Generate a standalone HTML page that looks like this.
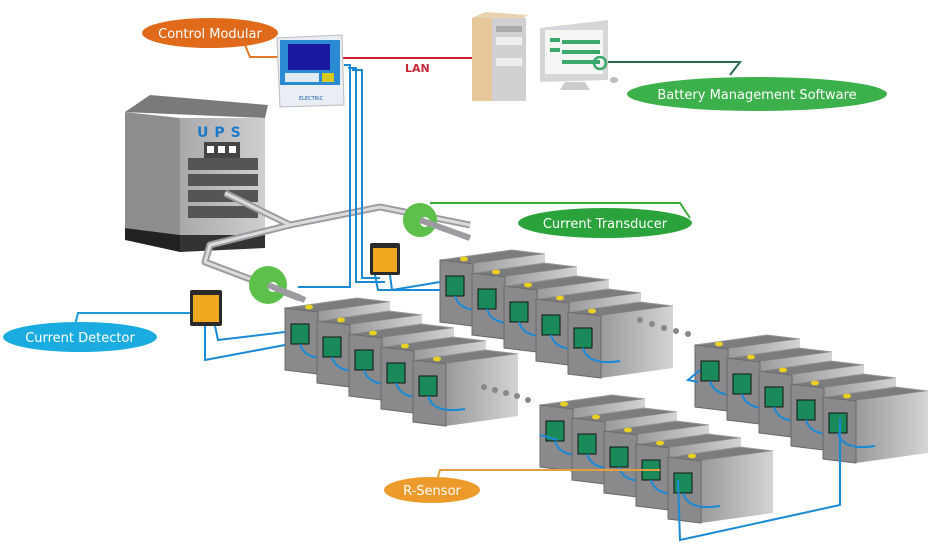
<!DOCTYPE html>
<html><head><meta charset="utf-8"><style>
html,body{margin:0;padding:0;background:#fff}
svg{display:block}
text{font-family:"DejaVu Sans","Liberation Sans",sans-serif}
</style></head><body>
<svg id="s" width="946" height="548" viewBox="0 0 946 548" xmlns="http://www.w3.org/2000/svg">
<defs>
<linearGradient id="side" x1="0" x2="1"><stop offset="0" stop-color="#9a9a9c"/><stop offset="1" stop-color="#d4d4d6"/></linearGradient>
<linearGradient id="ups" x1="0" x2="1"><stop offset="0" stop-color="#a9a9ab"/><stop offset="1" stop-color="#cfcfd1"/></linearGradient>
</defs>
<!-- leader lines -->
<polyline points="212,33 240,33 250,57 280,57" fill="none" stroke="#e07a2a" stroke-width="2"/>
<polyline points="730,75 740,62 600,62" fill="none" stroke="#2a6a4a" stroke-width="2"/>
<polyline points="690,218 680,203 430,203" fill="none" stroke="#3aaa3a" stroke-width="2"/>
<polyline points="75,325 78,313 190,313" fill="none" stroke="#1a9ad6" stroke-width="2"/>
<!-- LAN -->
<line x1="343" y1="58" x2="472" y2="58" stroke="#d02030" stroke-width="2"/>
<text x="405" y="72" font-size="11" font-weight="bold" fill="#c82838">LAN</text>
<!-- UPS -->
<polygon points="125,112 150,95 268,105 265,118" fill="#7a7a7c"/>
<polygon points="125,112 180,118 180,235 125,228" fill="#8d8d8f"/>
<polygon points="180,118 265,118 265,235 180,235" fill="url(#ups)"/>
<polygon points="125,228 180,235 180,252 125,240" fill="#222"/>
<polygon points="180,235 265,235 265,248 180,252" fill="#333"/>
<text x="197" y="137" font-size="14" font-weight="bold" fill="#1a7ac8" letter-spacing="6">UPS</text>
<rect x="204" y="142" width="36" height="16" fill="#444"/>
<rect x="207" y="146" width="7" height="7" fill="#fff"/><rect x="218" y="146" width="7" height="7" fill="#fff"/><rect x="229" y="146" width="7" height="7" fill="#fff"/>
<rect x="188" y="158" width="70" height="12" fill="#555"/>
<rect x="188" y="174" width="70" height="12" fill="#555"/>
<rect x="188" y="190" width="70" height="12" fill="#555"/>
<rect x="188" y="206" width="70" height="12" fill="#555"/>
<!-- pipes -->
<g fill="none" stroke="#9c9ca0" stroke-width="7" stroke-linejoin="round">
<polyline points="225,193 290,225 210,245 205,262 300,298"/>
<polyline points="290,225 380,207 470,225"/>
</g>
<g fill="none" stroke="#dcdcde" stroke-width="3" stroke-linejoin="round">
<polyline points="225,193 290,225 210,245 205,262 300,298"/>
<polyline points="290,225 380,207 470,225"/>
</g>
<!-- control module -->
<polygon points="277,38 342,35 344,105 280,107" fill="#e8eef4" stroke="#bbb"/>
<rect x="280" y="40" width="60" height="45" fill="#2a8ad4"/>
<rect x="288" y="44" width="42" height="26" fill="#1818a0"/>
<rect x="285" y="73" width="34" height="9" fill="#e0eaf4"/>
<rect x="322" y="73" width="12" height="9" fill="#d8c820"/>
<text x="299" y="100" font-size="5" fill="#1a5aa8">ELECTRIC</text>
<!-- blue wires from module -->
<g fill="none" stroke="#1a8ad6" stroke-width="2">
<polyline points="344,65 350,65 350,287 298,287"/>
<polyline points="348,68 356,68 356,282 385,282"/>
<polyline points="352,70 362,70 362,278 380,278"/>
</g>
<!-- PC tower -->
<polygon points="472,18 485,12 528,15 520,20" fill="#e8d2b0"/>
<rect x="472" y="18" width="20" height="83" fill="#e6c79c"/>
<rect x="492" y="18" width="34" height="83" fill="#d0d0d2"/>
<rect x="496" y="26" width="26" height="6" fill="#aaa"/>
<rect x="496" y="37" width="26" height="8" fill="#eee"/>
<rect x="496" y="58" width="26" height="8" fill="#eee"/>
<!-- monitor -->
<polygon points="540,28 608,20 608,80 540,82" fill="#d6d6d8"/>
<rect x="545" y="30" width="58" height="44" fill="#f4f6f4"/>
<g fill="#3aaa6a"><rect x="550" y="38" width="10" height="4"/><rect x="562" y="40" width="38" height="4"/><rect x="550" y="48" width="10" height="4"/><rect x="562" y="50" width="38" height="4"/><rect x="562" y="60" width="38" height="4"/></g>
<circle cx="600" cy="63" r="6" fill="none" stroke="#3aaa6a" stroke-width="2.5"/>
<polygon points="565,82 585,82 590,90 560,90" fill="#ccc"/>
<ellipse cx="614" cy="80" rx="4" ry="3" fill="#bbb"/>
<g id="banks"></g>
<!-- transducers -->
<g fill="#5cc04a">
<circle cx="420" cy="220" r="17"/>
<circle cx="268" cy="285" r="19"/>
</g>
<circle cx="425" cy="222" r="5" fill="#fff"/>
<circle cx="273" cy="287" r="5" fill="#fff"/>
<g fill="none" stroke="#9c9ca0" stroke-width="6"><line x1="420" y1="220" x2="470" y2="238"/><line x1="268" y1="285" x2="305" y2="300"/></g>
<!-- detectors -->
<rect x="370" y="243" width="30" height="32" rx="2" fill="#2a2a2a"/>
<rect x="373" y="248" width="24" height="24" fill="#f0a820"/>
<rect x="190" y="290" width="32" height="36" rx="2" fill="#2a2a2a"/>
<rect x="193" y="295" width="26" height="27" fill="#f0a820"/>
<g fill="none" stroke="#1a8ad6" stroke-width="2">
<polyline points="205,326 205,360 285,345"/>
<polyline points="215,326 218,340 285,332"/>
<polyline points="375,275 378,290 440,290"/>
<polyline points="390,275 392,290 440,282"/>
<polyline points="678,480 680,540 840,505 840,418"/>
<polyline points="540,435 558,440"/>
<polyline points="700,370 688,380 698,382"/>
</g>
<!-- dots -->
<g fill="#888"><circle cx="484" cy="387" r="3"/><circle cx="495" cy="390" r="3"/><circle cx="506" cy="393" r="3"/><circle cx="517" cy="396" r="3"/><circle cx="528" cy="400" r="3"/>
<circle cx="640" cy="320" r="3"/><circle cx="652" cy="324" r="3"/><circle cx="664" cy="328" r="3"/><circle cx="676" cy="331" r="3"/><circle cx="688" cy="334" r="3"/></g>
<polyline points="435,488 440,470 660,470" fill="none" stroke="#e0a040" stroke-width="2"/>
<!-- labels -->
<ellipse cx="210" cy="33" rx="68" ry="15" fill="#e06a1a"/>
<text x="210" y="38" font-size="13" fill="#fff" text-anchor="middle">Control Modular</text>
<ellipse cx="757" cy="94" rx="130" ry="17" fill="#3cb04a"/>
<text x="757" y="99" font-size="13" fill="#fff" text-anchor="middle">Battery Management Software</text>
<ellipse cx="605" cy="223" rx="87" ry="15" fill="#2aa43a"/>
<text x="605" y="228" font-size="13" fill="#fff" text-anchor="middle">Current Transducer</text>
<ellipse cx="80" cy="337" rx="77" ry="15" fill="#1aace0"/>
<text x="80" y="342" font-size="13" fill="#fff" text-anchor="middle">Current Detector</text>
<ellipse cx="432" cy="490" rx="48" ry="13" fill="#ec9a2a"/>
<text x="432" y="495" font-size="13" fill="#fff" text-anchor="middle">R-Sensor</text>
</svg>
<script>
var g=document.getElementById('banks'),ns='http://www.w3.org/2000/svg';
function P(pts,f,extra){var e=document.createElementNS(ns,'polygon');e.setAttribute('points',pts.map(function(p){return p.join(',')}).join(' '));e.setAttribute('fill',f);if(extra)e.setAttribute('stroke',extra);g.appendChild(e);}
function R(x,y,w,h,f,s){var e=document.createElementNS(ns,'rect');e.setAttribute('x',x);e.setAttribute('y',y);e.setAttribute('width',w);e.setAttribute('height',h);e.setAttribute('fill',f);if(s){e.setAttribute('stroke',s)}g.appendChild(e);}
function C(x,y,r,f){var e=document.createElementNS(ns,'ellipse');e.setAttribute('cx',x);e.setAttribute('cy',y);e.setAttribute('rx',r);e.setAttribute('ry',r*0.6);e.setAttribute('fill',f);g.appendChild(e);}
function bank(x0,y0){
 for(var i=0;i<5;i++){
  var fx=x0+i*32,fy=y0+i*13,W=33,dx=72,dy=-10,H=62;
  var a=[fx,fy],b=[fx+W,fy+4],c=[fx+W+dx,fy+4+dy],d=[fx+dx,fy+dy];
  P([a,b,c,d],'#7c7c7e','#9a9a9c');
  P([b,c,[c[0],c[1]+H],[b[0],b[1]+H]],'url(#side)');
  P([a,b,[b[0],b[1]+H],[a[0],a[1]+H]],'#8a8a8c','#6a6a6c');
  C(fx+24,fy-1,4,'#e8d020');
  R(fx+6,fy+16,18,20,'#1a8a5a','#111');
  var p=document.createElementNS(ns,'path');p.setAttribute('d','M'+(fx+15)+','+(fy+36)+' q5,18 '+(W+4)+','+(13));p.setAttribute('fill','none');p.setAttribute('stroke','#1a8ad6');p.setAttribute('stroke-width','2');g.appendChild(p);
 }
}
bank(440,260);bank(285,308);bank(695,345);bank(540,405);
</script>
</body></html>
